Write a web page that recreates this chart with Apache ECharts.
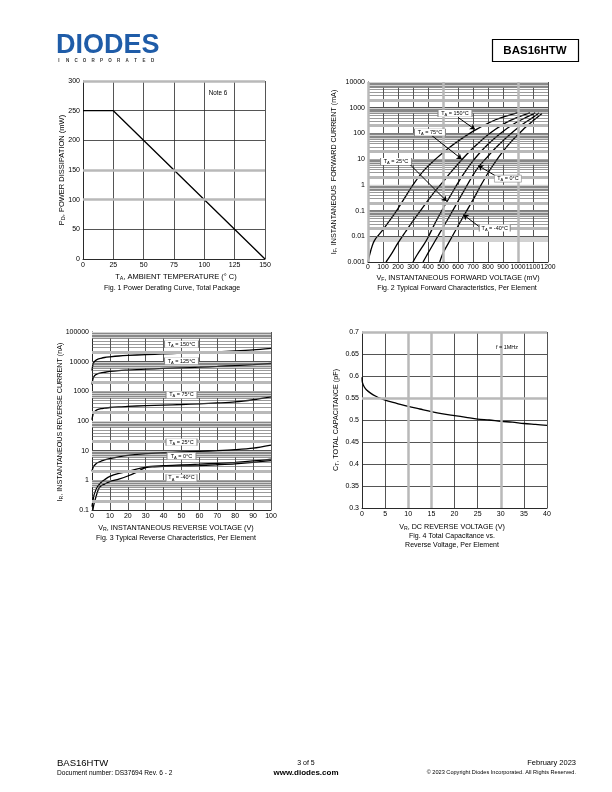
<!DOCTYPE html>
<html><head><meta charset="utf-8">
<script src="https://cdn.jsdelivr.net/npm/echarts@6/dist/echarts.min.js"></script>
<style>html,body{margin:0;padding:0;background:#fff}#c{width:612px;height:792px}</style>
</head><body><div id="c"></div>
<script>
// ---------- Fig. 1 data ----------
const fig1Temperature = [0, 25, 150];
const fig1Power = [250, 250, 0];

// ---------- Fig. 2 data (mV, mA) ----------
const fig2V150 = [0, 10, 20, 35, 50, 70, 100, 150, 200, 250, 300, 370, 450, 530, 620, 720, 850, 1000];
const fig2I150 = [0.001, 0.0018, 0.003, 0.0055, 0.008, 0.011, 0.018, 0.045, 0.12, 0.35, 1.0, 3.5, 10, 25, 60, 140, 340, 650];
const fig2V75 = [120, 150, 200, 250, 300, 350, 400, 450, 500, 550, 600, 650, 700, 750, 800, 850, 900, 950, 1000, 1080];
const fig2I75 = [0.001, 0.0018, 0.0055, 0.015, 0.04, 0.1, 0.25, 0.6, 1.3, 3, 6.5, 13.5, 27, 50, 88, 145, 225, 320, 430, 630];
const fig2V25 = [300, 330, 370, 400, 450, 500, 550, 600, 650, 700, 750, 800, 850, 900, 950, 1000, 1050, 1115];
const fig2I25 = [0.001, 0.002, 0.0045, 0.009, 0.035, 0.12, 0.38, 1.2, 3.4, 8.5, 19, 38, 70, 120, 195, 290, 410, 630];
const fig2V0 = [367, 400, 450, 500, 550, 600, 650, 700, 740, 800, 850, 900, 950, 1000, 1050, 1100, 1140];
const fig2I0 = [0.001, 0.0022, 0.007, 0.022, 0.07, 0.23, 0.75, 2.4, 5.2, 13, 27, 52, 95, 165, 270, 420, 620];
const fig2Vm40 = [478, 500, 550, 600, 640, 700, 750, 800, 850, 900, 950, 1000, 1050, 1100, 1160];
const fig2Im40 = [0.001, 0.0022, 0.0075, 0.025, 0.065, 0.26, 0.9, 2.9, 8, 20, 45, 90, 175, 310, 600];
const fig2YTickLabels = ['0.001', '0.01', '0.1', '1', '10', '100', '1000', '10000'];

// ---------- Fig. 3 data (V, nA) ----------
const fig3V = [0, 0.5, 1, 2, 3, 5, 7, 10, 15, 20, 30, 40, 50, 60, 70, 80, 90, 100];
const fig3I150 = [5000, 8000, 9500, 11000, 12000, 13000, 13800, 14500, 15500, 16200, 17300, 18300, 19300, 20300, 21500, 23000, 25000, 28000];
const fig3I125 = [1700, 2600, 3100, 3600, 3900, 4200, 4400, 4700, 5000, 5200, 5600, 5900, 6200, 6500, 6900, 7400, 8000, 8800];
const fig3I75 = [110, 160, 190, 220, 240, 260, 270, 285, 300, 310, 330, 345, 360, 380, 405, 440, 520, 650];
const fig3I25 = [2.0, 2.6, 3.0, 3.5, 3.9, 4.4, 4.9, 5.4, 6.2, 6.9, 7.9, 8.5, 9.0, 9.5, 10, 10.8, 12.2, 15.5];
const fig3I0 = [0.13, 0.2, 0.3, 0.45, 0.6, 0.85, 1.05, 1.35, 1.7, 2.0, 2.8, 3.1, 3.3, 3.5, 3.75, 4.05, 4.5, 5.2];
const fig3Vm40 = [0.5, 1, 2, 3, 4, 5, 7, 10, 15, 20, 25, 28, 30, 35, 40, 50, 60, 70, 80, 90, 100];
const fig3Im40 = [0.1, 0.15, 0.25, 0.4, 0.55, 0.65, 0.75, 0.9, 1.1, 1.4, 1.9, 2.4, 2.7, 2.85, 2.95, 3.05, 3.15, 3.35, 3.6, 4.0, 4.6];
const fig3YTickLabels = ['0.1', '1', '10', '100', '1000', '10000', '100000'];

// ---------- Fig. 4 data (V, pF) ----------
const fig4V = [0, 0.1, 0.5, 1, 2, 3, 4, 5, 7.5, 10, 12.5, 15, 17.5, 20, 22.5, 25, 27.5, 30, 32.5, 35, 37.5, 40];
const fig4C = [0.597, 0.585, 0.575, 0.568, 0.56, 0.554, 0.549, 0.545, 0.538, 0.531, 0.525, 0.519, 0.514, 0.51, 0.506, 0.502, 0.5, 0.497, 0.495, 0.492, 0.49, 0.488];

// ---------- annotations (data coordinates) ----------
const fig2Notes = [
  { t: '150°C', at: [580, 600], from: [600, 420], to: [713, 144], w: 34 },
  { t: '75°C', at: [413, 110], from: [425, 83], to: [625, 10], w: 31 },
  { t: '25°C', at: [187, 8.1], from: [280, 6.2], to: [525, 0.23], w: 31 },
  { t: '0°C', at: [933, 1.74], from: [858, 2.1], to: [735, 5.6], w: 27 },
  { t: '-40°C', at: [845, 0.021], from: [740, 0.024], to: [636, 0.069], w: 31 }
];
const fig3Notes = [
  { t: '150°C', at: [50, 39000], w: 34 },
  { t: '125°C', at: [50, 10500], w: 34 },
  { t: '75°C', at: [50, 760], w: 31 },
  { t: '25°C', at: [50, 19.5], w: 31 },
  { t: '0°C', at: [50, 6.6], w: 29 },
  { t: '-40°C', at: [50, 1.2], w: 31 }
];

const F = 'Liberation Sans, Arial, sans-serif';
const zip = (a, b) => a.map((v, i) => [v, b[i]]);
const tickFmt = labels => v => {
  let best = labels[0], d = Infinity;
  labels.forEach(l => { const dd = Math.abs(Math.log10(+l) - Math.log10(v)); if (dd < d) { d = dd; best = l; } });
  return best;
};
const dark = '#2a2a2a', gray = '#b9b9b9';
const axLabel = { color: '#000', fontSize: 7, fontFamily: F, margin: 3, formatter: v => String(v) };

function valAxis(grid, min, max, interval, extra) {
  return Object.assign({
    type: 'value', gridIndex: grid, min, max, interval,
    axisLine: { show: true, lineStyle: { color: dark, width: 1 } },
    axisTick: { show: false },
    splitLine: { show: true, lineStyle: { color: dark, width: 0.8 } },
    axisLabel: axLabel
  }, extra || {});
}
function logAxis(grid, min, max, split, labels) {
  return {
    type: 'log', logBase: 10, gridIndex: grid, min, max, splitNumber: split,
    axisLine: { show: true, lineStyle: { color: dark, width: 1 } },
    axisTick: { show: false },
    splitLine: { show: true, lineStyle: { color: dark, width: 1 } },
    minorTick: { show: false }, minorSplitLine: { show: false },
    axisLabel: Object.assign({}, axLabel, { formatter: tickFmt(labels) })
  };
}
// log-grid decoration (minor lines / bands)
function logDecor(idx, loExp, hiExp, anchor) {
  const lines = [], areas = [];
  for (let e = loExp; e < hiExp; e++) {
    const d = Math.pow(10, e);
    lines.push({ yAxis: 2 * d, lineStyle: { color: gray, width: 3, type: 'solid' } });
    for (let k = 3; k <= 9; k++) lines.push({ yAxis: k * d, lineStyle: { color: '#555', width: 0.6, type: 'solid' } });
  }
  for (let e = loExp + 1; e <= hiExp; e++) {
    const d = Math.pow(10, e);
    areas.push([{ yAxis: 0.6 * d }, { yAxis: d }]);
  }
  return {
    type: 'line', xAxisIndex: idx, yAxisIndex: idx, data: [anchor], symbol: 'none',
    lineStyle: { opacity: 0 }, silent: true, z: 1,
    markArea: { silent: true, itemStyle: { color: '#d2d2d2' }, data: areas },
    markLine: { silent: true, symbol: 'none', label: { show: false }, lineStyle: { type: 'solid' }, data: lines }
  };
}
function vlines(idx, anchor, xs, ys) {
  const data = xs.map(x => ({ xAxis: x })).concat(ys.map(y => ({ yAxis: y })));
  return {
    type: 'line', xAxisIndex: idx, yAxisIndex: idx, data: [anchor], symbol: 'none',
    lineStyle: { opacity: 0 }, silent: true, z: 2,
    markLine: { silent: true, symbol: 'none', label: { show: false }, lineStyle: { color: gray, width: 2.5, type: 'solid' }, data }
  };
}
function curve(idx, data, smooth) {
  return {
    type: 'line', xAxisIndex: idx, yAxisIndex: idx, data, symbol: 'none', smooth: smooth === undefined ? 0.3 : smooth,
    lineStyle: { color: '#000', width: 1.3 }, z: 4, silent: true
  };
}
const noteRich = {
  m: { fontSize: 5.5, fontFamily: F, color: '#000' },
  s: { fontSize: 4, fontFamily: F, color: '#000', padding: [3, 0, 0, 0] }
};
function notes(idx, list, anchor, arrows) {
  const s = {
    type: 'line', xAxisIndex: idx, yAxisIndex: idx, data: [anchor], symbol: 'none',
    lineStyle: { opacity: 0 }, silent: true, z: 6,
    markPoint: {
      silent: true,
      data: list.map(n => ({
        coord: n.at, symbol: 'rect', symbolSize: [n.w, 7],
        itemStyle: { color: '#fff', borderColor: '#888', borderWidth: 0.5 },
        label: { show: true, position: 'inside', formatter: '{m|T}{s|A}{m| = ' + n.t + '}', rich: noteRich }
      }))
    }
  };
  if (arrows) {
    s.markLine = {
      silent: true, symbol: ['none', 'arrow'], symbolSize: 5, label: { show: false },
      lineStyle: { color: '#000', width: 1, type: 'solid' },
      data: list.map(n => [{ coord: n.from }, { coord: n.to }])
    };
  }
  return s;
}

// ---------- text helpers ----------
const rich = (size) => ({
  m: { fontSize: size, fontFamily: F, fill: '#000' },
  s: { fontSize: size * 0.72, fontFamily: F, fill: '#000', padding: [size * 0.45, 0, 0, 0] }
});
function T(x, y, text, size, opt) {
  opt = opt || {};
  return {
    type: 'text', x, y, rotation: opt.rot || 0, silent: true, z: 10,
    style: {
      text, rich: rich(size), fontSize: size, fontFamily: F, fill: opt.color || '#000',
      fontWeight: opt.bold ? 'bold' : 'normal',
      align: opt.align || 'center', verticalAlign: 'middle'
    }
  };
}

const graphics = [
  { type: 'text', x: 56, y: 46, silent: true, style: { text: 'DIODES', fontSize: 27, fontWeight: 'bold', fontFamily: F, fill: '#1f5ca8', align: 'left', verticalAlign: 'middle' } },
  { type: 'rect', shape: { x: 492.5, y: 39.5, width: 86, height: 22 }, style: { fill: 'none', stroke: '#000', lineWidth: 1.2 } },
  T(535, 50.5, 'BAS16HTW', 11.5, { bold: true }),
  // figure 1
  T(62, 170, '{m|P}{s|D}{m|, POWER DISSIPATION (mW)}', 7.5, { rot: Math.PI / 2 }),
  T(176, 277, '{m|T}{s|A}{m|, AMBIENT TEMPERATURE (° C)}', 7.5),
  T(172, 288, 'Fig. 1 Power Derating Curve, Total Package', 7),
  T(218, 93, 'Note 6', 6.3),
  // figure 2
  T(334, 172, '{m|I}{s|F}{m|, INSTANTANEOUS  FORWARD CURRENT (mA)}', 7.2, { rot: Math.PI / 2 }),
  T(458, 278, '{m|V}{s|F}{m|, INSTANTANEOUS FORWARD VOLTAGE (mV)}', 7.2),
  T(457, 288, 'Fig. 2 Typical Forward Characteristics, Per Element', 7),
  // figure 3
  T(60, 422, '{m|I}{s|R}{m|, INSTANTANEOUS REVERSE CURRENT (nA)}', 7.2, { rot: Math.PI / 2 }),
  T(176, 528, '{m|V}{s|R}{m|, INSTANTANEOUS REVERSE VOLTAGE (V)}', 7.2),
  T(176, 538, 'Fig. 3 Typical Reverse Characteristics, Per Element', 7),
  // figure 4
  T(336, 420, '{m|C}{s|T}{m|, TOTAL CAPACITANCE (pF)}', 7.2, { rot: Math.PI / 2 }),
  T(452, 527, '{m|V}{s|R}{m|, DC REVERSE VOLTAGE (V)}', 7.2),
  T(452, 536.5, 'Fig. 4 Total Capacitance vs.', 7),
  T(452, 545.5, 'Reverse Voltage, Per Element', 7),
  T(507, 347, 'f = 1MHz', 5.5),
  // footer
  T(57, 763, 'BAS16HTW', 9.5, { align: 'left' }),
  T(57, 773, 'Document number: DS37694 Rev. 6 - 2', 6.6, { align: 'left' }),
  T(306, 763, '3 of 5', 7),
  T(306, 773, 'www.diodes.com', 8, { bold: true }),
  T(576, 763, 'February 2023', 7.5, { align: 'right' }),
  T(576, 772.5, '© 2023 Copyright Diodes Incorporated. All Rights Reserved.', 5.6, { align: 'right' })
];
'INCORPORATED'.split('').forEach((ch, i) => {
  graphics.push({ type: 'text', x: 59 + i * 8.5, y: 61, silent: true, style: { text: ch, fontSize: 4.5, fontWeight: 'bold', fontFamily: F, fill: '#333', align: 'center', verticalAlign: 'middle' } });
});

const option = {
  animation: false,
  backgroundColor: '#fff',
  textStyle: { fontFamily: F },
  grid: [
    { left: 83, top: 81, width: 182, height: 178 },
    { left: 368, top: 82, width: 180, height: 180 },
    { left: 92, top: 332, width: 179, height: 178 },
    { left: 362, top: 332, width: 185, height: 176 }
  ],
  xAxis: [
    valAxis(0, 0, 150, 25),
    valAxis(1, 0, 1200, 100, { axisLabel: Object.assign({}, axLabel, { margin: 2, fontSize: 6.8 }) }),
    valAxis(2, 0, 100, 10),
    valAxis(3, 0, 40, 5)
  ],
  yAxis: [
    valAxis(0, 0, 300, 50, { splitLine: { show: true, lineStyle: { color: [dark, dark, gray, gray, dark, dark, gray], width: 0.8 } } }),
    logAxis(1, 0.001, 10000, 7, fig2YTickLabels),
    logAxis(2, 0.1, 100000, 6, fig3YTickLabels),
    valAxis(3, 0.3, 0.7, 0.05, { axisLabel: Object.assign({}, axLabel, { formatter: v => String(+v.toFixed(2)) }) })
  ],
  graphic: graphics,
  series: [
    // fig 1
    vlines(0, [0, 0], [], [300, 150, 100]),
    curve(0, zip(fig1Temperature, fig1Power), false),
    // fig 2
    logDecor(1, -3, 4, [0, 0.001]),
    vlines(1, [0, 0.001], [0, 500, 1000], []),
    curve(1, zip(fig2V150, fig2I150)),
    curve(1, zip(fig2V75, fig2I75)),
    curve(1, zip(fig2V25, fig2I25)),
    curve(1, zip(fig2V0, fig2I0)),
    curve(1, zip(fig2Vm40, fig2Im40)),
    notes(1, fig2Notes, [0, 0.001], true),
    // fig 3
    logDecor(2, -1, 5, [0, 0.1]),
    curve(2, zip(fig3V, fig3I150)),
    curve(2, zip(fig3V, fig3I125)),
    curve(2, zip(fig3V, fig3I75)),
    curve(2, zip(fig3V, fig3I25)),
    curve(2, zip(fig3V, fig3I0)),
    curve(2, zip(fig3Vm40, fig3Im40)),
    notes(2, fig3Notes, [0, 0.1], false),
    // fig 4
    vlines(3, [0, 0.3], [10, 15, 30], [0.7, 0.55]),
    curve(3, zip(fig4V, fig4C))
  ]
};
const chart = echarts.init(document.getElementById('c'), null, { renderer: 'canvas' });
chart.setOption(option);
</script>
</body></html>
